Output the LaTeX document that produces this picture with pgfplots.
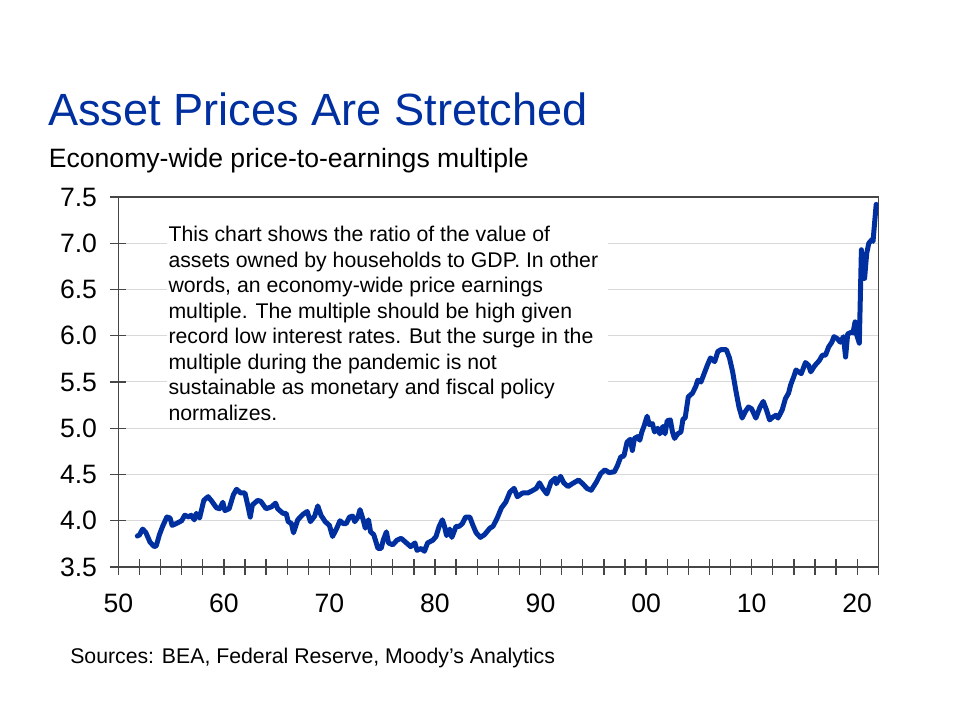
\documentclass[border=0pt]{standalone}
\usepackage{fontspec}
\setmainfont{Liberation Sans}
\usepackage{pgfplots}
\pgfplotsset{compat=1.18}
\definecolor{fedblue}{RGB}{0,48,160}
\definecolor{axgray}{RGB}{70,70,70}
\definecolor{gridgray}{RGB}{217,217,217}
\begin{document}
\begin{tikzpicture}
\path[use as bounding box, fill=white] (0bp,0bp) rectangle (720bp,540bp);
\begin{axis}[
  at={(88.725bp,114.75bp)}, anchor=south west,
  scale only axis, width=570bp, height=277.5bp,
  xmin=1950, xmax=2022, ymin=3.5, ymax=7.5,
  xtick={1950,1952,...,2022},
  xticklabels={50,,,,,60,,,,,70,,,,,80,,,,,90,,,,,00,,,,,10,,,,,20,},
  ytick={3.5,4.0,...,7.5},
  yticklabel style={/pgf/number format/fixed, /pgf/number format/fixed zerofill, /pgf/number format/precision=1, xshift=-6.5bp},
  /pgf/number format/assume math mode=true,
  ymajorgrids, major grid style={gridgray, line width=0.75bp},
  axis line style={axgray, line width=1bp},
  tick style={axgray, line width=1bp},
  tick align=center, tick pos=left,
  major tick length=12bp,
  ticklabel style={font=\fontsize{20}{24}\selectfont, text=black},
  xticklabel style={yshift=-11bp},
  clip=true,
]
\addplot[fedblue, line width=3.75bp, line join=round, line cap=round] coordinates {
(1951.8,3.835) (1952.0,3.846) (1952.3,3.91) (1952.6,3.875) (1953.0,3.77) (1953.4,3.72) (1953.6,3.73) (1953.9,3.85)
(1954.2,3.94) (1954.6,4.04) (1954.9,4.03) (1955.1,3.95) (1955.5,3.97) (1956.0,4.00) (1956.3,4.06) (1956.7,4.04)
(1956.9,4.06) (1957.2,4.01) (1957.4,4.08) (1957.7,4.03) (1958.1,4.22) (1958.5,4.26) (1958.8,4.22) (1959.3,4.14)
(1959.6,4.13) (1959.9,4.20) (1960.1,4.11) (1960.5,4.13) (1960.9,4.28) (1961.2,4.34) (1961.6,4.30) (1962.0,4.30)
(1962.3,4.15) (1962.5,4.04) (1962.7,4.17) (1963.2,4.22) (1963.5,4.21) (1964.0,4.13) (1964.5,4.15) (1964.9,4.19)
(1965.1,4.13) (1965.6,4.08) (1965.9,4.08) (1966.1,3.99) (1966.4,3.97) (1966.6,3.87) (1967.0,4.01) (1967.5,4.07)
(1967.9,4.10) (1968.2,3.99) (1968.6,4.05) (1968.9,4.16) (1969.2,4.06) (1969.6,3.99) (1970.0,3.95) (1970.3,3.83)
(1970.7,3.92) (1971.0,4.00) (1971.3,3.97) (1971.6,3.97) (1971.9,4.04) (1972.2,4.05) (1972.4,3.99) (1972.7,4.04)
(1972.9,4.12) (1973.2,4.01) (1973.4,3.92) (1973.7,4.01) (1973.9,3.88) (1974.2,3.85) (1974.6,3.70) (1974.9,3.70)
(1975.1,3.79) (1975.4,3.88) (1975.6,3.76) (1976.0,3.74) (1976.4,3.79) (1976.8,3.81) (1977.3,3.76) (1977.7,3.72)
(1978.1,3.76) (1978.3,3.68) (1978.7,3.70) (1979.0,3.67) (1979.3,3.76) (1979.8,3.79) (1980.1,3.83) (1980.4,3.94)
(1980.7,4.01) (1980.9,3.94) (1981.1,3.84) (1981.4,3.91) (1981.6,3.82) (1982.0,3.94) (1982.3,3.94) (1982.6,3.97)
(1982.9,4.04) (1983.3,4.04) (1983.6,3.95) (1983.9,3.87) (1984.3,3.82) (1984.7,3.85) (1985.2,3.92) (1985.5,3.94)
(1985.9,4.03) (1986.3,4.14) (1986.7,4.20) (1987.1,4.31) (1987.5,4.35) (1987.8,4.26) (1988.3,4.30) (1988.8,4.30)
(1989.3,4.33) (1989.6,4.35) (1989.9,4.41) (1990.2,4.35) (1990.6,4.29) (1991.0,4.42) (1991.4,4.46) (1991.5,4.40)
(1991.9,4.48) (1992.2,4.41) (1992.6,4.37) (1993.0,4.40) (1993.6,4.44) (1994.0,4.40) (1994.4,4.35) (1994.8,4.33)
(1995.3,4.42) (1995.7,4.51) (1996.1,4.55) (1996.5,4.52) (1997.0,4.53) (1997.3,4.60) (1997.6,4.69) (1997.9,4.70)
(1998.2,4.85) (1998.5,4.88) (1998.7,4.76) (1998.9,4.89) (1999.2,4.91) (1999.4,4.87) (1999.6,4.96) (1999.8,5.02)
(2000.1,5.13) (2000.3,5.04) (2000.6,5.05) (2000.8,4.96) (2001.1,5.00) (2001.3,4.94) (2001.6,5.02) (2001.8,4.94)
(2002.0,5.08) (2002.3,5.09) (2002.5,4.96) (2002.7,4.89) (2003.0,4.94) (2003.3,4.96) (2003.5,5.10) (2003.7,5.11)
(2004.0,5.34) (2004.4,5.38) (2004.7,5.45) (2004.9,5.52) (2005.2,5.50) (2005.5,5.59) (2005.8,5.68) (2006.1,5.76)
(2006.5,5.72) (2006.8,5.83) (2007.1,5.85) (2007.6,5.85) (2007.9,5.76) (2008.2,5.61) (2008.5,5.41) (2008.8,5.23)
(2009.1,5.11) (2009.4,5.18) (2009.7,5.23) (2010.0,5.21) (2010.4,5.11) (2010.8,5.23) (2011.1,5.29) (2011.4,5.20)
(2011.7,5.09) (2012.0,5.12) (2012.3,5.14) (2012.5,5.11) (2012.9,5.20) (2013.2,5.32) (2013.5,5.38) (2013.7,5.47)
(2014.0,5.56) (2014.2,5.63) (2014.7,5.59) (2015.1,5.71) (2015.4,5.68) (2015.6,5.61) (2016.0,5.68) (2016.4,5.73)
(2016.7,5.79) (2017.0,5.79) (2017.3,5.88) (2017.6,5.93) (2017.8,5.99) (2018.1,5.97) (2018.4,5.93) (2018.7,5.99)
(2018.9,5.77) (2019.1,6.02) (2019.5,6.04) (2019.6,6.03) (2019.8,6.15) (2019.9,6.03) (2020.2,5.92) (2020.4,6.93)
(2020.5,6.62) (2020.7,6.62) (2020.9,6.89) (2021.1,7.00) (2021.4,7.04) (2021.5,7.02) (2021.8,7.42)
};
\end{axis}
% text box
\fill[white] (125.25bp,221.25bp) rectangle (456bp,381bp);
\begin{scope}[every node/.style={anchor=base west, inner sep=0pt, font=\fontsize{16}{19}\selectfont}]
\node at (126.2bp,358.7bp) {This chart shows the ratio of the value of};
\node at (126.2bp,339.6bp) {assets owned by households to GDP. In other};
\node at (126.2bp,320.5bp) {words, an economy-wide price earnings};
\node at (126.2bp,301.3bp) {multiple. The multiple should be high given};
\node at (126.2bp,282.2bp) {record low interest rates. But the surge in the};
\node at (126.2bp,263.1bp) {multiple during the pandemic is not};
\node at (126.2bp,243.9bp) {sustainable as monetary and fiscal policy};
\node at (126.2bp,224.8bp) {normalizes.};
\end{scope}
% titles
\node[anchor=base west, inner sep=0pt, text=fedblue, font=\fontsize{34}{40}\selectfont] at (36bp,446bp) {Asset Prices Are Stretched};
\node[anchor=base west, inner sep=0pt, font=\fontsize{20}{24}\selectfont] at (36.5bp,414bp) {Economy-wide price-to-earnings multiple};
\node[anchor=base west, inner sep=0pt, font=\fontsize{16}{19}\selectfont] at (52.5bp,42bp) {Sources: BEA, Federal Reserve, Moody’s Analytics};
\end{tikzpicture}
\end{document}
